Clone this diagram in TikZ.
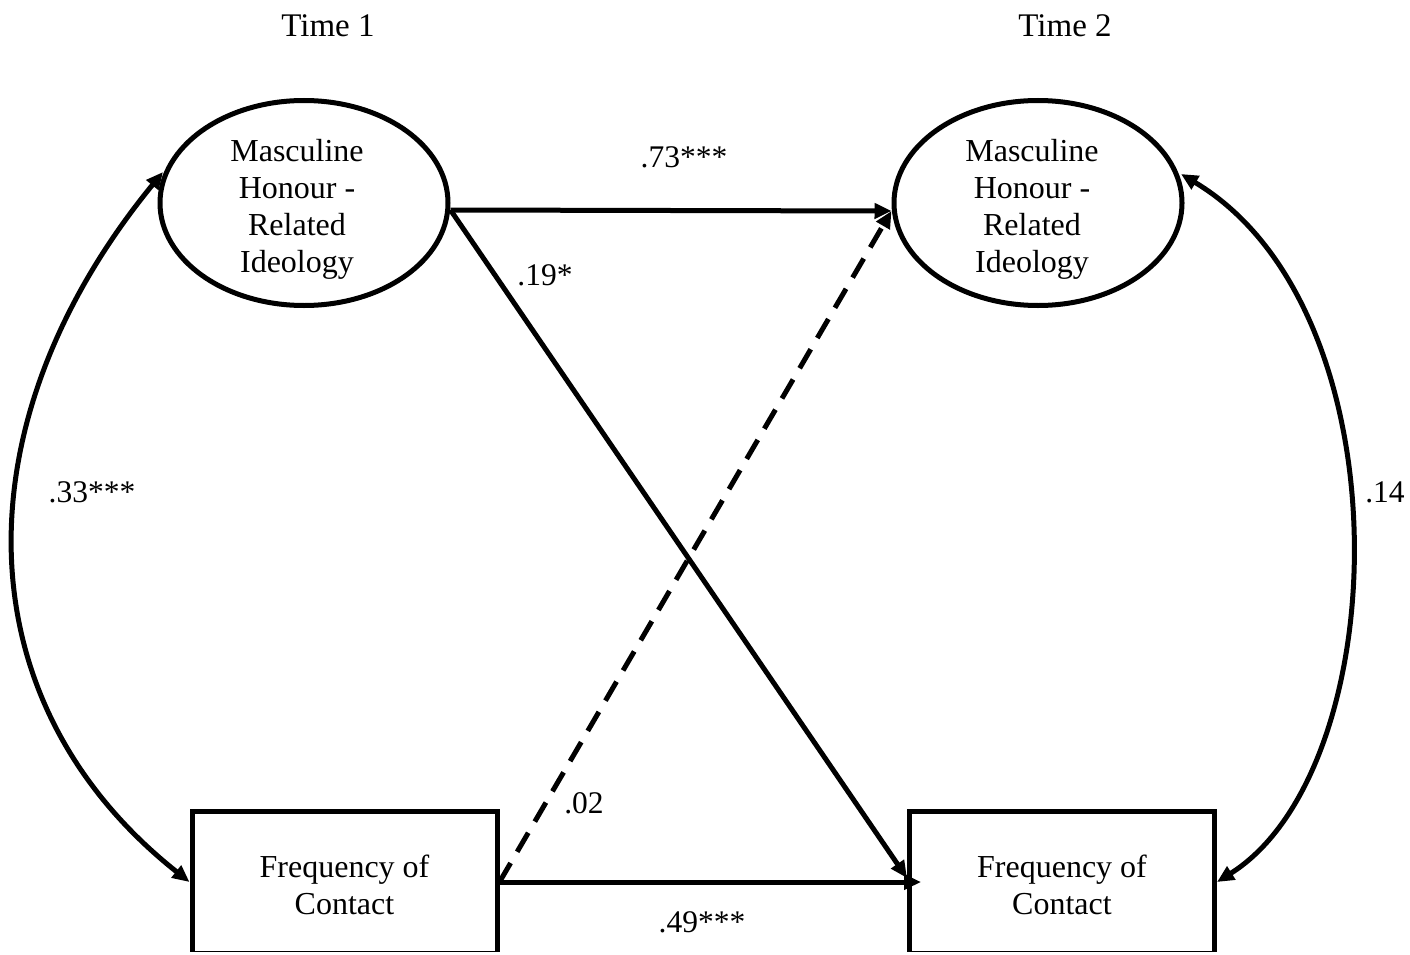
\documentclass[tikz,border=0pt]{standalone}
\usepackage{fontspec}
\setmainfont{Liberation Serif}
\usetikzlibrary{shapes.geometric,arrows.meta}
\begin{document}
\begin{tikzpicture}[x=1pt,y=-1pt,
  lat/.style={ellipse,draw,line width=5pt,minimum width=288pt,minimum height=205pt,inner sep=0pt},
  obs/.style={rectangle,draw,line width=5pt,minimum width=305pt,minimum height=142pt,inner sep=0pt},
  txt/.style={align=center,inner sep=0pt,font=\fontsize{32}{37}\selectfont},
  patharrow/.style={line width=5pt,-{Triangle[length=17pt,width=15pt]}},
  cov/.style={line width=5pt,{Triangle[length=17pt,width=15pt]}-{Triangle[length=17pt,width=15pt]}},
  lbl/.style={font=\fontsize{31.5}{36}\selectfont,inner sep=0pt,anchor=base},
  timelbl/.style={font=\fontsize{33}{38}\selectfont,inner sep=0pt,anchor=base}
]
\useasboundingbox (0,0) rectangle (1410,955);
\fill[white] (0,0) rectangle (1410,955);
\clip (0,0) rectangle (1410,951);

\node[timelbl] (t1) at (328,37) {Time 1};
\node[timelbl] (t2) at (1065,37) {Time 2};

\node[lat] (mh1) at (304,203) {};
\node[lat] (mh2) at (1038,203) {};
\node[txt] (mh1t) at (297,209) {Masculine\\Honour -\\Related\\Ideology};
\node[txt] (mh2t) at (1032,209) {Masculine\\Honour -\\Related\\Ideology};
\node[obs] (fc1) at (344.5,882) {};
\node[obs] (fc2) at (1062,882) {};
\node[txt] (fc1t) at (344.5,885) {Frequency of\\Contact};
\node[txt] (fc2t) at (1062,885) {Frequency of\\Contact};

\coordinate (a1) at ([yshift=-7pt]mh1.east);
\coordinate (a2) at ([yshift=-8pt]mh2.west);
\coordinate (b2) at ([yshift=4pt]fc2.west);

\draw[patharrow] (a1) -- (a2);
\draw[patharrow] (a1) -- (b2);
\draw[patharrow,shorten >=-14pt] (fc1.east) -- (fc2.west);
\draw[patharrow,dash pattern=on 22pt off 13pt] (fc1.east) -- (a2);

\coordinate (c1) at (163,172);
\coordinate (c2) at (1181,174);
\draw[cov] (c1) .. controls (-40,420) and (-40,700) .. (fc1.west);
\draw[cov] (c2) .. controls (1408,310) and (1395,770) .. (fc2.east);

\node[lbl] (l73) at (684,167) {.73***};
\node[lbl] (l19) at (545,285) {.19*};
\node[lbl] (l33) at (92,502) {.33***};
\node[lbl] (l14) at (1385,502) {.14};
\node[lbl] (l02) at (584,813) {.02};
\node[lbl] (l49) at (702,932) {.49***};
\end{tikzpicture}
\end{document}
